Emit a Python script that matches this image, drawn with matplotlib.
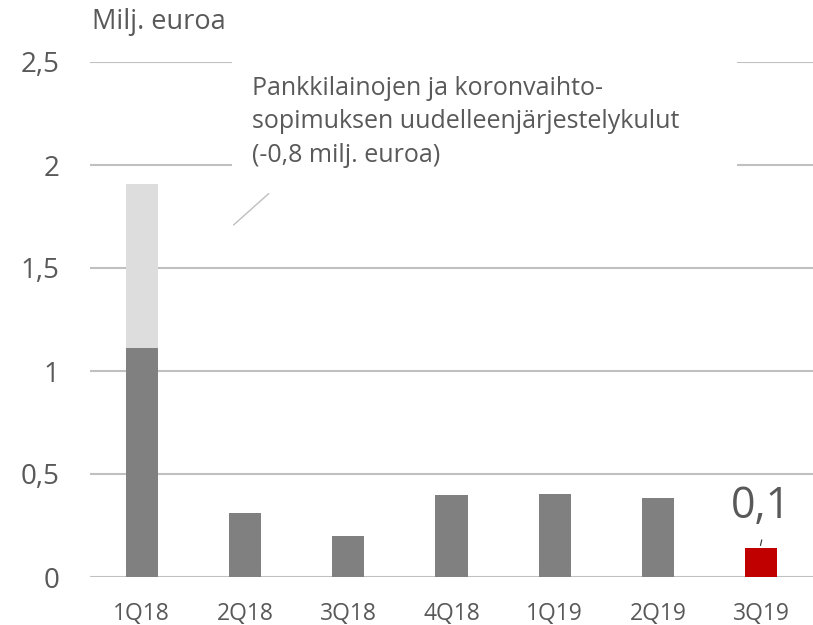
import matplotlib
matplotlib.use("Agg")
from matplotlib import pyplot as plt
from matplotlib.patches import Rectangle

quarters = ["1Q18", "2Q18", "3Q18", "4Q18", "1Q19", "2Q19", "3Q19"]
result = [1.11, 0.31, 0.20, 0.40, 0.405, 0.385, 0.14]
one_off = [0.80, 0, 0, 0, 0, 0, 0]
bar_colors = ["#808080"] * 6 + ["#c00000"]
yticks = [0, 0.5, 1, 1.5, 2, 2.5]
ytick_labels = ["0", "0,5", "1", "1,5", "2", "2,5"]

plt.rcParams['font.family'] = ['Open Sans', 'DejaVu Sans']

fig = plt.figure(figsize=(8.13, 6.25), dpi=100)
ax = fig.add_axes([90 / 813, 48 / 625, 723 / 813, 515 / 625])

x = range(len(quarters))
ax.bar(x, result, width=0.31, color=bar_colors, zorder=3)
ax.bar(x, one_off, width=0.31, bottom=result, color="#dddddd", zorder=3)

ax.set_xlim(-0.5, 6.5)
ax.set_ylim(0, 2.5)
ax.set_yticks(yticks)
ax.set_yticklabels(ytick_labels, fontsize=20, color="#595959")
ax.set_xticks(list(x))
ax.set_xticklabels(quarters, fontsize=16.5, color="#595959")
ax.tick_params(axis="y", length=0, pad=22)
ax.tick_params(axis="x", length=0, pad=18)
for s in ax.spines.values():
    s.set_visible(False)
ax.grid(axis="y", color="#c0c0c0", linewidth=1.5, zorder=0)
ax.set_axisbelow(True)

# white box hiding the gridlines behind the note
ax.add_patch(Rectangle((0.196, 1.94 / 2.5), 0.699, 0.62 / 2.5, transform=ax.transAxes,
                       facecolor="white", edgecolor="none", zorder=2, clip_on=False))

ax.text(1.07, 2.21,
        "Pankkilainojen ja koronvaihto-\nsopimuksen uudelleenjärjestelykulut\n(-0,8 milj. euroa)",
        fontsize=18, color="#595959", linespacing=1.45, va="center", ha="left", zorder=4)
ax.annotate("", xy=(0.87, 1.70), xytext=(1.25, 1.87),
            arrowprops=dict(arrowstyle="-", color="#bfbfbf", lw=1))

# value label on latest quarter
ax.text(6.0, result[-1] + 0.2, "0,1", fontsize=31, color="#595959", ha="center", va="center", zorder=4)
ax.annotate("", xy=(5.985, result[-1]), xytext=(6.01, result[-1] + 0.053),
            arrowprops=dict(arrowstyle="-", color="#404040", lw=0.9))

fig.text(92 / 813, 1 - 22 / 625, "Milj. euroa", fontsize=19.5, color="#595959", va="center", ha="left")

plt.savefig("out.png", dpi=100)
